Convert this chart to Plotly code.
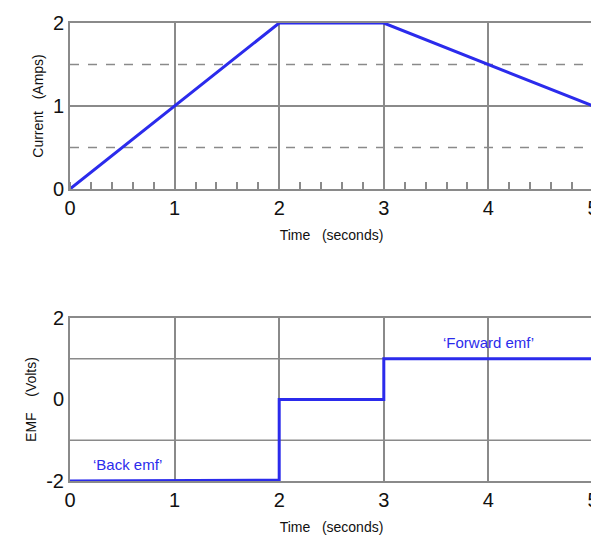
import plotly.graph_objects as go
from plotly.subplots import make_subplots

t_current = [0, 2, 3, 4, 5]
current = [0, 2, 2, 1.5, 1]
t_emf = [0, 2, 2, 3, 3, 5]
emf = [-2, -1.98, 0, 0, 1, 1]
x_ticks = [0, 1, 2, 3, 4, 5]
emf_ticks = [-2, 0, 2]
emf_ticklabels = ["-2", "0", "2"]

fig = make_subplots(rows=2, cols=1)
blue = "#2b2bec"
grid = "#8a8a8a"
fig.add_trace(go.Scatter(x=t_current, y=current, mode="lines", line=dict(color=blue, width=3)), 1, 1)
fig.add_trace(go.Scatter(x=t_emf, y=emf, mode="lines", line=dict(color=blue, width=3)), 2, 1)

for r in (1, 2):
    fig.update_xaxes(row=r, col=1, range=[0, 5], tickvals=x_ticks, showgrid=True, gridcolor=grid, gridwidth=1.5,
                     showline=True, linecolor=grid, linewidth=2, mirror=True, zeroline=False, automargin=False,
                     tickfont=dict(size=20, color="#111", family="Liberation Sans"), ticks="", ticklen=0,
                     title=dict(text="Time   (seconds)", font=dict(size=14, color="#111", family="Liberation Sans"), standoff=12))
fig.update_xaxes(row=1, col=1, minor=dict(dtick=0.2, ticks="inside", ticklen=7, tickcolor=grid, tickwidth=1.5, showgrid=False))
fig.update_layout(xaxis=dict(domain=[0, 1]), xaxis2=dict(domain=[0, 1]),
                  yaxis=dict(domain=[0.6376, 1]), yaxis2=dict(domain=[0, 0.3559]))
fig.update_yaxes(row=1, col=1, range=[0, 2], tickvals=[0, 1, 2], showgrid=True, gridcolor=grid, gridwidth=1.5,
                 showline=True, linecolor=grid, linewidth=2, mirror=True, zeroline=False, automargin=False,
                 tickfont=dict(size=20, color="#111", family="Liberation Sans"),
                 title=dict(text="Current   (Amps)", font=dict(size=14, color="#111", family="Liberation Sans"), standoff=6))
fig.update_yaxes(row=2, col=1, range=[-2, 2], tickvals=emf_ticks, ticktext=emf_ticklabels, showgrid=False,
                 showline=True, linecolor=grid, linewidth=2, mirror=True, zeroline=False, automargin=False,
                 tickfont=dict(size=20, color="#111", family="Liberation Sans"),
                 title=dict(text="EMF    (Volts)", font=dict(size=14, color="#111", family="Liberation Sans"), standoff=6))
for yv in (0.5, 1.5):
    fig.add_hline(y=yv, row=1, col=1, line=dict(color=grid, width=1.5, dash="dash"), layer="below")
for yv in (-1, 1):
    fig.add_hline(y=yv, row=2, col=1, line=dict(color=grid, width=1.5), layer="below")

fig.add_annotation(x=0.55, y=-2, yshift=16, xref="x2", yref="y2", text="‘Back emf’", showarrow=False,
                   font=dict(size=15, color=blue, family="Liberation Sans"))
fig.add_annotation(x=4.0, y=1, yshift=16, xref="x2", yref="y2", text="‘Forward emf’", showarrow=False,
                   font=dict(size=15, color=blue, family="Liberation Sans"))

fig.update_layout(width=599, height=542, margin=dict(l=62, r=14, t=15, b=69), showlegend=False,
                  plot_bgcolor="white", paper_bgcolor="white")
fig.write_html("out.html")
